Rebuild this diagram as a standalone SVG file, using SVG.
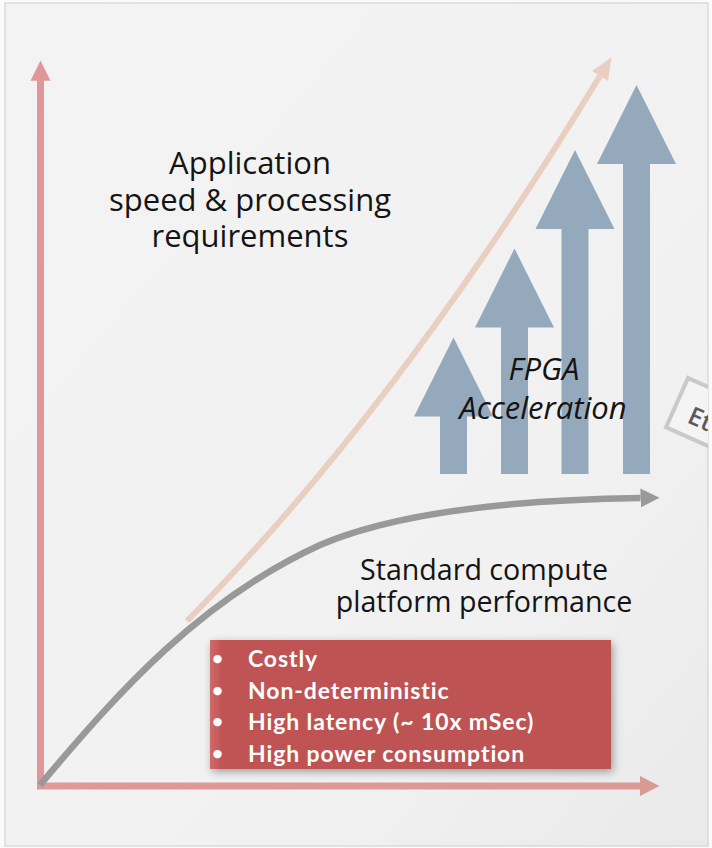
<svg xmlns="http://www.w3.org/2000/svg" width="712" height="848" viewBox="0 0 712 848">
<style>
.title{font-family:"Open Sans","DejaVu Sans",sans-serif;font-size:31px;fill:#141414;text-anchor:middle}
.std{font-family:"Open Sans","DejaVu Sans",sans-serif;font-size:28.6px;fill:#141414;text-anchor:middle}
.fpga{font-family:"Open Sans","DejaVu Sans",sans-serif;font-size:31px;font-style:italic;fill:#141414;text-anchor:middle}
.li{font-family:Lato,"Liberation Sans",sans-serif;font-size:23px;font-weight:bold;fill:#ffffff;letter-spacing:0.9px}
.bul{font-family:Lato,"Liberation Sans",sans-serif;font-size:19px;font-weight:bold;fill:#ffffff}
.blue{fill:#94a9bc}
</style>
<defs>
<linearGradient id="bg" x1="0" y1="0" x2="1" y2="1">
<stop offset="0" stop-color="#f3f3f3"/>
<stop offset="0.7" stop-color="#f1f1f1"/>
<stop offset="1" stop-color="#e9e9e9"/>
</linearGradient>
<linearGradient id="hx" gradientUnits="userSpaceOnUse" x1="37" y1="0" x2="660" y2="0">
<stop offset="0" stop-color="#e09899"/>
<stop offset="1" stop-color="#d99a94"/>
</linearGradient>
<linearGradient id="box" x1="0" y1="0" x2="1" y2="0">
<stop offset="0" stop-color="#d26a6a"/>
<stop offset="0.03" stop-color="#c05353"/>
<stop offset="1" stop-color="#bd5252"/>
</linearGradient>
<filter id="sh" x="-10%" y="-20%" width="120%" height="140%">
<feDropShadow dx="2" dy="3" stdDeviation="4" flood-color="#000" flood-opacity="0.35"/>
</filter>
<clipPath id="frameclip"><rect x="5" y="3" width="703" height="843"/></clipPath>
<marker id="mGray" markerUnits="userSpaceOnUse" markerWidth="20" markerHeight="20" refX="0" refY="9.5" orient="auto" viewBox="0 0 20 19">
<path d="M0,0 L19,9.5 L0,19 z" fill="#999999"/>
</marker>
<marker id="mPeach" markerUnits="userSpaceOnUse" markerWidth="22" markerHeight="20" refX="0" refY="9" orient="auto" viewBox="0 0 21 18">
<path d="M0,0 L21,9 L0,18 z" fill="#e9cfbf"/>
</marker>
</defs>
<rect x="0" y="0" width="712" height="848" fill="#fafafa"/>
<rect id="frame" x="5" y="3" width="703" height="843" fill="url(#bg)" stroke="#dadada" stroke-width="1.5"/>

<g id="tag" clip-path="url(#frameclip)">
<g transform="translate(688,378) rotate(24)">
<rect x="0" y="0" width="120" height="54" fill="#f4f4f4" stroke="#c9c9c9" stroke-width="4"/>
<text x="16" y="41" font-family="'Open Sans','DejaVu Sans',sans-serif" font-size="25" font-weight="600" fill="#5a5a5a">Et</text>
</g>
</g>

<g id="axes">
<rect x="37" y="782.5" width="604" height="7" fill="url(#hx)"/>
<polygon points="659.5,786 640,776 640,796" fill="#d99a94"/>
<line x1="40.5" y1="789" x2="40.5" y2="80" stroke="#df9799" stroke-width="7"/>
<polygon points="40.5,60.5 50.5,80.7 30.5,80.7" fill="#df9799"/>
</g>

<g id="fpga-arrows">
<polygon class="blue" points="453.5,337.5 493,416.5 467,416.5 467,474 440,474 440,416.5 414,416.5"/>
<polygon class="blue" points="514.5,248.5 554,327.5 528,327.5 528,474 501,474 501,327.5 475,327.5"/>
<polygon class="blue" points="575,150 614.5,229 588.5,229 588.5,474 561.5,474 561.5,229 535.5,229"/>
<polygon class="blue" points="636.5,85 676,164 650,164 650,474 623,474 623,164 597,164"/>
</g>

<g id="connectors">
<path id="app-curve" d="M187,621 Q395,412 600,76" fill="none" stroke="#e9cfbf" stroke-width="6" marker-end="url(#mPeach)"/>
<path id="std-curve" d="M40,785 C120,690 200,600 320,545 C390,515 500,500 640.5,498" fill="none" stroke="#999999" stroke-width="6.5" marker-end="url(#mGray)"/>
</g>

<g id="label-app">
<text class="title"><tspan x="250" y="174">Application</tspan><tspan x="250" y="211">speed &amp; processing</tspan><tspan x="250" y="247">requirements</tspan></text>
</g>

<g id="label-fpga">
<text class="fpga"><tspan x="544" y="380">FPGA</tspan><tspan x="543" y="419">Acceleration</tspan></text>
</g>

<g id="label-std">
<text class="std"><tspan x="484" y="580">Standard compute</tspan><tspan x="484" y="612">platform performance</tspan></text>
</g>

<g id="drawbacks">
<rect x="210" y="640" width="401" height="129" fill="url(#box)" filter="url(#sh)"/>
<text class="bul" x="212" y="665">•</text>
<text class="bul" x="212" y="697">•</text>
<text class="bul" x="212" y="728">•</text>
<text class="bul" x="212" y="760">•</text>
<text class="li" x="248" y="667">Costly</text>
<text class="li" x="248" y="699">Non-deterministic</text>
<text class="li" x="248" y="730">High latency (~ 10x mSec)</text>
<text class="li" x="248" y="762">High power consumption</text>
</g>
</svg>
